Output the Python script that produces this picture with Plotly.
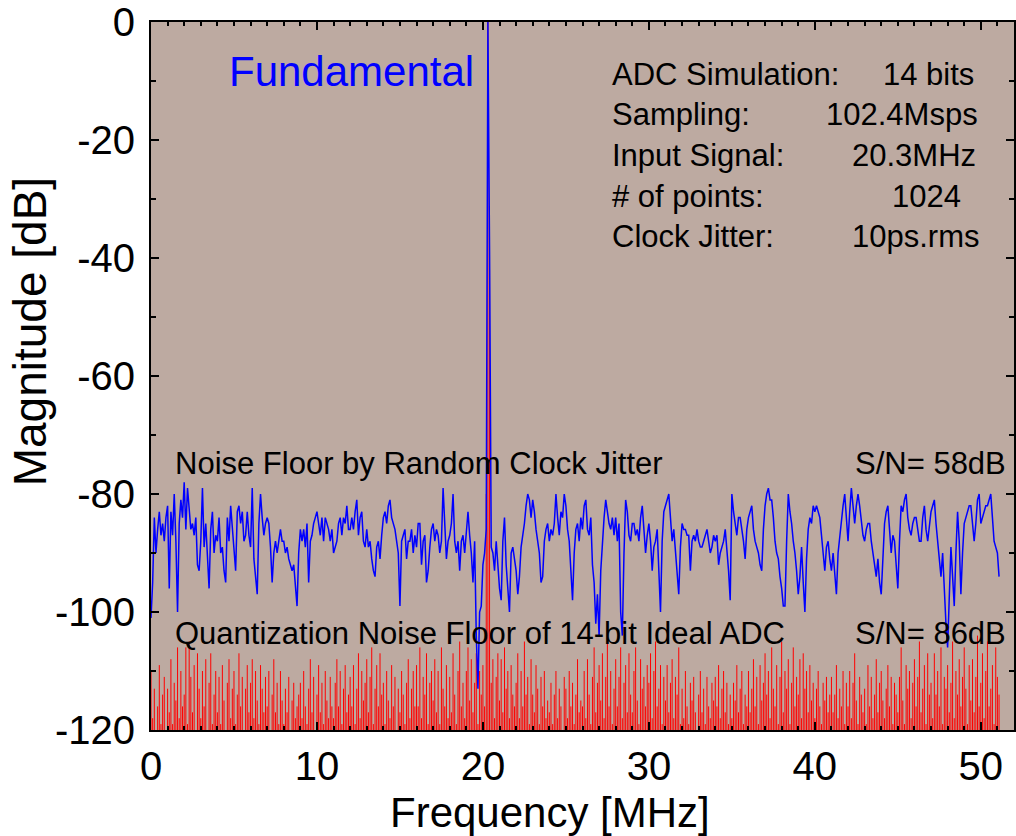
import plotly.graph_objects as go

# ---------------- data ----------------
bin_mhz = 0.1  # FFT bin spacing: 102.4 Msps / 1024 points

jitter_db = [
    -101, -95, -84, -90, -86, -83, -87, -85, -88, -84,
    -82, -96, -83, -87, -80, -88, -100, -85, -81, -84,
    -78, -86, -79, -82, -86, -85, -87, -84, -92, -93,
    -88, -79, -89, -85, -92, -96, -86, -83, -90, -87,
    -88, -84, -90, -89, -93, -95, -84, -88, -82, -86,
    -90, -93, -83, -82, -85, -83, -88, -87, -83, -87,
    -89, -79, -91, -94, -97, -85, -80, -84, -87, -85,
    -84, -85, -89, -95, -90, -88, -90, -88, -86, -88,
    -88, -90, -89, -91, -92, -93, -92, -95, -99, -90,
    -86, -88, -86, -89, -85, -95, -88, -87, -85, -84,
    -83, -85, -87, -84, -88, -84, -85, -86, -88, -86,
    -90, -89, -88, -85, -84, -87, -84, -85, -82, -86,
    -86, -84, -86, -83, -81, -87, -84, -83, -88, -89,
    -86, -89, -88, -91, -93, -94, -89, -88, -91, -87,
    -84, -83, -85, -82, -81, -84, -85, -86, -88, -90,
    -99, -88, -87, -86, -91, -88, -88, -86, -90, -87,
    -89, -85, -85, -92, -88, -87, -95, -93, -89, -86,
    -85, -88, -86, -87, -90, -88, -79, -86, -91, -88,
    -87, -85, -80, -88, -90, -88, -93, -88, -87, -90,
    -86, -83, -87, -90, -95, -88, -104, -113, -100, -99,
    -92, -90, -86, 0, -39, -89, -90, -93, -88, -92,
    -96, -98, -88, -84, -92, -96, -100, -90, -89, -91,
    -93, -97, -94, -89, -87, -85, -82, -80, -81, -84,
    -81, -83, -86, -88, -90, -95, -94, -88, -86, -85,
    -88, -86, -87, -85, -80, -84, -87, -83, -84, -80,
    -82, -86, -88, -93, -98, -90, -86, -85, -88, -84,
    -86, -82, -81, -86, -87, -84, -92, -95, -102, -97,
    -104, -93, -88, -84, -81, -83, -85, -86, -84, -87,
    -84, -88, -85, -100, -104, -90, -81, -83, -87, -88,
    -85, -85, -87, -86, -88, -84, -82, -86, -90, -87,
    -85, -88, -93, -89, -88, -86, -92, -100, -88, -83,
    -82, -81, -80, -84, -88, -86, -90, -94, -97, -89,
    -85, -86, -86, -87, -87, -93, -88, -87, -88, -86,
    -88, -89, -89, -88, -87, -86, -88, -90, -89, -87,
    -88, -87, -92, -90, -89, -88, -86, -89, -93, -98,
    -80, -83, -85, -87, -84, -84, -86, -88, -91, -86,
    -84, -83, -82, -86, -88, -89, -90, -92, -93, -86,
    -82, -80, -79, -81, -81, -84, -88, -90, -91, -94,
    -96, -99, -99, -88, -80, -83, -85, -88, -90, -93,
    -97, -94, -89, -95, -100, -91, -86, -84, -85, -82,
    -83, -82, -83, -84, -87, -90, -93, -89, -88, -91,
    -93, -90, -94, -97, -90, -87, -84, -82, -80, -84,
    -88, -83, -79, -82, -85, -82, -80, -82, -85, -87,
    -88, -86, -85, -85, -88, -90, -92, -94, -91, -95,
    -97, -90, -85, -83, -82, -86, -90, -87, -88, -92,
    -96, -88, -82, -83, -81, -80, -84, -86, -87, -85,
    -84, -84, -86, -88, -88, -84, -82, -86, -88, -85,
    -83, -82, -81, -85, -88, -91, -94, -90, -97, -102,
    -106, -96, -89, -94, -99, -90, -83, -88, -97, -90,
    -85, -84, -83, -82, -82, -85, -88, -85, -81, -80,
    -85, -84, -83, -82, -82, -81, -80, -84, -88, -89,
    -90, -94,
]

quant_db = [
    -110, -118, -113, -121, -116, -109, -119, -114, -111, -120,
    -113, -117, -108, -119, -112, -115, -106, -118, -110, -116,
    -114, -106, -119, -105, -111, -117, -109, -120, -107, -113,
    -118, -110, -116, -108, -121, -112, -107, -119, -114, -110,
    -117, -111, -119, -109, -115, -120, -112, -108, -118, -113,
    -110, -119, -114, -107, -116, -111, -120, -113, -109, -117,
    -112, -108, -118, -110, -115, -119, -109, -113, -117, -111,
    -116, -110, -120, -114, -108, -117, -112, -119, -110, -115,
    -119, -113, -117, -111, -120, -115, -112, -118, -116, -114,
    -112, -118, -110, -116, -119, -113, -108, -117, -111, -120,
    -114, -109, -117, -112, -119, -110, -115, -118, -111, -116,
    -118, -112, -108, -116, -110, -119, -113, -109, -117, -114,
    -111, -116, -109, -119, -113, -107, -118, -110, -115, -112,
    -108, -117, -111, -106, -119, -113, -109, -116, -107, -114,
    -112, -119, -110, -115, -118, -109, -116, -111, -120, -113,
    -117, -110, -114, -119, -112, -108, -118, -113, -110, -116,
    -109, -116, -106, -118, -111, -114, -107, -119, -112, -110,
    -115, -108, -117, -110, -119, -106, -113, -116, -109, -118,
    -111, -117, -107, -114, -119, -110, -105, -116, -112, -118,
    -110, -106, -115, -108, -117, -112, -107, -119, -110, -114,
    -109, -116, -80, 0, -42, -112, -108, -118, -111, -107,
    -115, -108, -117, -106, -113, -110, -118, -109, -114, -116,
    -112, -107, -118, -110, -116, -105, -114, -111, -119, -108,
    -114, -117, -109, -113, -119, -111, -116, -110, -118, -115,
    -117, -112, -119, -114, -110, -118, -113, -116, -120, -111,
    -113, -118, -110, -116, -112, -119, -114, -108, -117, -115,
    -116, -110, -118, -108, -114, -119, -111, -106, -117, -112,
    -109, -115, -107, -118, -111, -105, -116, -110, -119, -113,
    -108, -116, -111, -106, -118, -112, -109, -117, -107, -114,
    -117, -110, -106, -115, -119, -108, -113, -111, -116, -109,
    -112, -107, -118, -110, -105, -116, -113, -109, -119, -111,
    -115, -109, -117, -112, -108, -118, -111, -114, -106, -119,
    -113, -118, -110, -116, -119, -112, -115, -111, -117, -120,
    -114, -110, -117, -113, -119, -111, -116, -118, -112, -115,
    -111, -116, -109, -118, -113, -110, -117, -112, -119, -114,
    -118, -112, -115, -109, -117, -113, -110, -119, -114, -116,
    -110, -117, -113, -108, -116, -111, -119, -109, -115, -112,
    -107, -114, -110, -118, -106, -113, -116, -109, -119, -111,
    -105, -117, -110, -113, -108, -119, -112, -106, -116, -111,
    -114, -108, -118, -107, -113, -110, -117, -109, -115, -112,
    -118, -113, -110, -116, -119, -112, -115, -111, -117, -114,
    -111, -117, -114, -109, -118, -113, -116, -110, -119, -112,
    -116, -110, -118, -112, -107, -115, -119, -111, -114, -117,
    -113, -119, -109, -116, -111, -118, -114, -108, -117, -112,
    -110, -115, -118, -113, -109, -116, -111, -119, -112, -114,
    -117, -111, -106, -115, -119, -109, -113, -110, -118, -112,
    -108, -116, -111, -105, -117, -113, -109, -119, -107, -114,
    -112, -118, -107, -114, -110, -116, -106, -119, -111, -113,
    -109, -117, -112, -105, -118, -110, -114, -108, -116, -111,
    -106, -113, -119, -109, -115, -108, -117, -111, -104, -116,
    -112, -107, -118, -110, -105, -116, -113, -109, -119, -106,
    -111, -114,
]

x_ticks = [0, 10, 20, 30, 40, 50]
y_ticks = [0, -20, -40, -60, -80, -100, -120]
x_range = [0, 52]
y_range = [-120, 0]
stem_base = -130

freq = [i * bin_mhz for i in range(len(jitter_db))]
freq_q = [i * bin_mhz for i in range(len(quant_db))]

info_labels = ["ADC Simulation:", "Sampling:", "Input Signal:", "# of points:", "Clock Jitter:"]
info_values = ["14 bits", "102.4Msps", "20.3MHz", "1024", "10ps.rms"]

# ---------------- figure ----------------
W, H = 1016, 836
L, R, T, B = 151, 0, 22, 106
PW, PH = W - L - R, H - T - B
FONT = "Liberation Sans, Arial, Helvetica, sans-serif"


def px(xp):
    return (xp - L) / PW


def py(yp):
    return (T + PH - yp) / PH


# red quantization-noise stems
sx, sy = [], []
for f, v in zip(freq_q, quant_db):
    sx += [f, f, None]
    sy += [stem_base, v, None]

fig = go.Figure()
fig.add_trace(go.Scatter(x=sx, y=sy, mode="lines",
                         line=dict(color="rgb(255,0,0)", width=1.0),
                         hoverinfo="skip", showlegend=False))
fig.add_trace(go.Scatter(x=freq, y=jitter_db, mode="lines",
                         line=dict(color="rgb(0,0,255)", width=1.5),
                         showlegend=False))

ann = []
ann.append(dict(text="Fundamental", x=px(227), y=py(71), xanchor="left", yanchor="middle",
                font=dict(size=42, color="rgb(0,0,255)", family=FONT)))
line_y = [74, 114, 156, 196, 236]
val_right = [978, 982, 980, 965, 983]
for lab, val, yy, xr in zip(info_labels, info_values, line_y, val_right):
    ann.append(dict(text=lab, x=px(611), y=py(yy), xanchor="left", yanchor="middle",
                    font=dict(size=31, color="black", family=FONT)))
    ann.append(dict(text=val, x=px(xr), y=py(yy), xanchor="right", yanchor="middle",
                    font=dict(size=31, color="black", family=FONT)))
ann.append(dict(text="Noise Floor by Random Clock Jitter", x=px(173), y=py(463),
                xanchor="left", yanchor="middle", font=dict(size=31, color="black", family=FONT)))
ann.append(dict(text="S/N= 58dB", x=px(1010), y=py(463),
                xanchor="right", yanchor="middle", font=dict(size=31, color="black", family=FONT)))
ann.append(dict(text="Quantization Noise Floor of 14-bit Ideal ADC", x=px(173), y=py(633),
                xanchor="left", yanchor="middle", font=dict(size=31, color="black", family=FONT)))
ann.append(dict(text="S/N= 86dB", x=px(1010), y=py(633),
                xanchor="right", yanchor="middle", font=dict(size=31, color="black", family=FONT)))
# axis titles
ann.append(dict(text="Frequency [MHz]", x=px(551), y=py(812), xanchor="center", yanchor="middle",
                font=dict(size=42, color="black", family=FONT)))
ann.append(dict(text="Magnitude [dB]", x=px(30), y=py(332), xanchor="center", yanchor="middle",
                textangle=-90, font=dict(size=46, color="black", family=FONT)))
for a in ann:
    a.update(xref="paper", yref="paper", showarrow=False)

axis_common = dict(
    showgrid=False, zeroline=False,
    showline=True, linecolor="black", linewidth=2, mirror="allticks",
    ticks="inside", ticklen=8, tickwidth=2, tickcolor="black",
    tickfont=dict(size=40, color="black", family=FONT),
)
fig.update_layout(
    width=W, height=H,
    margin=dict(l=L, r=R, t=T, b=B, pad=0),
    paper_bgcolor="white",
    plot_bgcolor="rgb(189,170,161)",
    xaxis=dict(range=x_range, tickvals=x_ticks, ticktext=[str(v) for v in x_ticks],
               minor=dict(dtick=1, ticks="inside", ticklen=4, tickwidth=2, tickcolor="black"),
               **axis_common),
    yaxis=dict(range=y_range, tickvals=y_ticks, ticktext=[str(v) for v in y_ticks],
               minor=dict(dtick=10, ticks="inside", ticklen=5, tickwidth=2, tickcolor="black"),
               ticklabelstandoff=6, **axis_common),
    annotations=ann,
)

fig.write_html("out.html",
               config={"displayModeBar": False},
               post_script="document.body.style.margin='0px';document.body.style.overflow='hidden';")
